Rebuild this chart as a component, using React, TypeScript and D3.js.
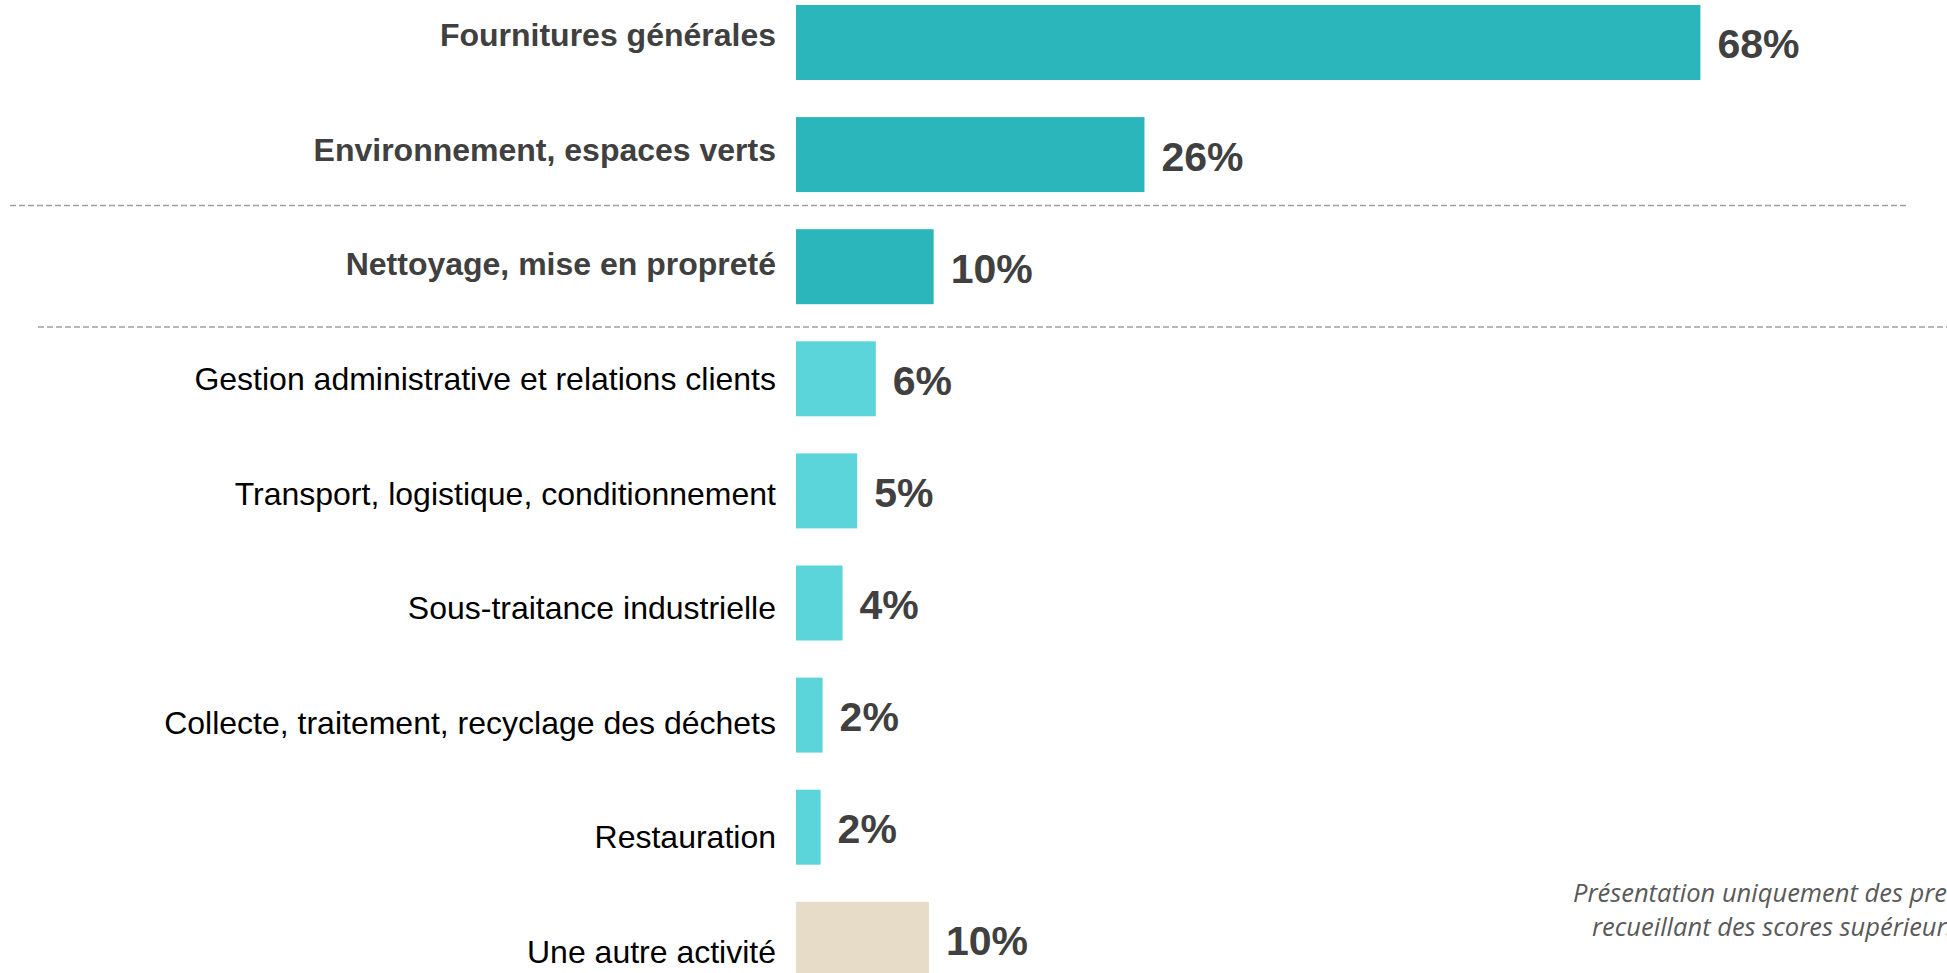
import React from "react";
import * as d3 from "d3";

const categories = [
  "Fournitures générales",
  "Environnement, espaces verts",
  "Nettoyage, mise en propreté",
  "Gestion administrative et relations clients",
  "Transport, logistique, conditionnement",
  "Sous-traitance industrielle",
  "Collecte, traitement, recyclage des déchets",
  "Restauration",
  "Une autre activité",
];
const values = [68, 26.2, 10.35, 6, 4.6, 3.5, 2.0, 1.85, 10];
const valueLabels = ["68%", "26%", "10%", "6%", "5%", "4%", "2%", "2%", "10%"];
const groups = ["top", "top", "top", "other", "other", "other", "other", "other", "autre"];
const boldLabels = [true, true, true, false, false, false, false, false, false];
const footnoteLines = [
  "Présentation uniquement des premières",
  "recueillant des scores supérieurs",
];

const W = 1947;
const H = 973;
const colors: Record<string, string> = {
  top: "#2BB6BB",
  other: "#5BD5D9",
  autre: "#E6DCC8",
};

export default function App() {
  const x = d3.scaleLinear().domain([0, 100]).range([796, 796 + 1330]);
  const y = d3
    .scaleBand<string>()
    .domain(categories)
    .range([5, 5 + 8 * 112.1 + 75])
    .paddingInner(0.331)
    .paddingOuter(0);
  const yLabel = d3.scalePoint<string>().domain(categories).range([46, 963]);

  const bw = y.bandwidth();

  return (
    <svg
      width={W}
      height={H}
      style={{ position: "absolute", left: 0, top: 0, display: "block", background: "#fff" }}
    >
      <rect x={0} y={0} width={W} height={H} fill="#fff" />
      {/* separators */}
      <line x1={10} x2={1907} y1={205.5} y2={205.5} stroke="#A0A0A0" strokeWidth={1.6} strokeDasharray="6 3" />
      <line x1={38} x2={W} y1={327} y2={327} stroke="#A0A0A0" strokeWidth={1.6} strokeDasharray="6 3" />

      {categories.map((c, i) => {
        const by = y(c) as number;
        const xe = x(values[i]);
        return (
          <g key={c}>
            <rect x={x(0)} y={by} width={xe - x(0)} height={bw} fill={colors[groups[i]]} />
            <text
              x={776}
              y={yLabel(c) as number}
              textAnchor="end"
              fontFamily="'Liberation Sans', Arial, sans-serif"
              fontSize={32}
              fontWeight={boldLabels[i] ? 700 : 400}
              fill={boldLabels[i] ? "#404040" : "#000000"}
            >
              {c}
            </text>
            <text
              x={xe + 17}
              y={by + bw / 2 + 16}
              fontFamily="'Liberation Sans', Arial, sans-serif"
              fontSize={41}
              fontWeight={700}
              fill="#404040"
            >
              {valueLabels[i]}
            </text>
          </g>
        );
      })}

      <text
        fontFamily="'Open Sans', 'Noto Sans', sans-serif"
        fontStyle="italic"
        fontSize={25.5}
        fill="#595959"
      >
        <tspan x={1573} y={902}>{footnoteLines[0]}</tspan>
        <tspan x={1592} y={936}>{footnoteLines[1]}</tspan>
      </text>
    </svg>
  );
}
